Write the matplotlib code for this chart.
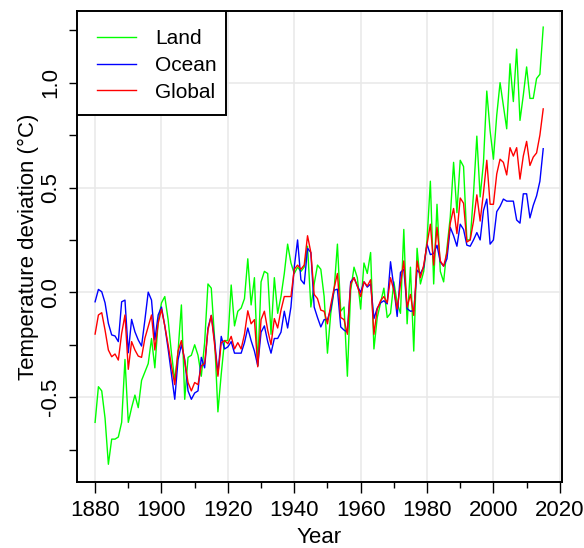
import numpy as np
import matplotlib
matplotlib.use("Agg")
import matplotlib.pyplot as plt
from matplotlib.patches import Rectangle
from matplotlib.ticker import MultipleLocator, FixedLocator, FixedFormatter

years = np.arange(1880, 2016)

land = [
    -0.62, -0.45, -0.47, -0.60, -0.82, -0.70, -0.70, -0.69, -0.62, -0.32,
    -0.62, -0.55, -0.49, -0.55, -0.42, -0.38, -0.34, -0.22, -0.36, -0.14,
    -0.05, -0.02, -0.13, -0.29, -0.42, -0.28, -0.06, -0.51, -0.31, -0.30,
    -0.25, -0.30, -0.40, -0.24, 0.04, 0.02, -0.22, -0.57, -0.39, -0.23,
    -0.23, 0.035, -0.16, -0.09, -0.075, -0.03, 0.16, -0.06, 0.07, -0.35,
    0.05, 0.10, 0.09, -0.20, 0.07, -0.10, -0.02, 0.09, 0.23, 0.14,
    0.09, 0.12, 0.10, 0.12, 0.22, -0.07, 0.04, 0.13, 0.11, -0.02,
    -0.29, -0.10, 0.01, 0.23, -0.09, -0.07, -0.40, 0.01, 0.12, 0.07,
    -0.08, 0.14, 0.09, 0.19, -0.27, -0.12, -0.05, 0.02, -0.12, -0.10,
    0.05, -0.05, -0.10, 0.30, -0.15, 0.12, -0.28, 0.21, 0.04, 0.10,
    0.25, 0.53, 0.04, 0.42, 0.10, 0.05, 0.21, 0.36, 0.62, 0.38,
    0.63, 0.60, 0.25, 0.25, 0.47, 0.745, 0.455, 0.62, 0.96, 0.77,
    0.635, 0.845, 1.00, 0.89, 0.78, 1.09, 0.91, 1.16, 0.82, 0.94,
    1.075, 0.925, 0.925, 1.02, 1.04, 1.265,
]

ocean = [
    -0.045, 0.014, 0.003, -0.05, -0.148, -0.203, -0.208, -0.235, -0.045, -0.037,
    -0.288, -0.129, -0.188, -0.227, -0.256, -0.132, 0.001, -0.037, -0.227, -0.108,
    -0.07, -0.16, -0.27, -0.39, -0.51, -0.32, -0.25, -0.32, -0.47, -0.51,
    -0.48, -0.47, -0.31, -0.36, -0.17, -0.11, -0.23, -0.39, -0.21, -0.27,
    -0.26, -0.235, -0.29, -0.29, -0.29, -0.24, -0.17, -0.23, -0.28, -0.35,
    -0.19, -0.16, -0.235, -0.29, -0.22, -0.22, -0.19, -0.09, -0.17, -0.07,
    0.12, 0.25, 0.06, 0.04, 0.21, 0.19, -0.07, -0.12, -0.165, -0.13,
    -0.13, -0.08, 0.01, 0.015, -0.165, -0.18, -0.19, 0.05, 0.07, 0.03,
    0.0, 0.05, 0.025, 0.04, -0.125, -0.075, -0.05, -0.04, -0.055, 0.146,
    0.025, -0.115, 0.095, 0.11, -0.078, -0.09, -0.088, 0.106, 0.09, 0.12,
    0.23, 0.18, 0.185, 0.225, 0.145, 0.125, 0.16, 0.31, 0.27, 0.22,
    0.325, 0.30, 0.225, 0.22, 0.25, 0.285, 0.25, 0.39, 0.445, 0.23,
    0.25, 0.385, 0.41, 0.445, 0.435, 0.435, 0.435, 0.345, 0.33, 0.47,
    0.47, 0.355, 0.415, 0.46, 0.53, 0.685,
]

glob = [
    -0.199, -0.108, -0.097, -0.18, -0.275, -0.307, -0.294, -0.323, -0.196, -0.108,
    -0.367, -0.235, -0.275, -0.304, -0.31, -0.219, -0.164, -0.108, -0.275, -0.148,
    -0.08, -0.16, -0.25, -0.35, -0.44, -0.28, -0.23, -0.33, -0.43, -0.47,
    -0.43, -0.44, -0.35, -0.34, -0.18, -0.11, -0.25, -0.40, -0.24, -0.23,
    -0.245, -0.21, -0.27, -0.24, -0.27, -0.20, -0.088, -0.15, -0.13, -0.355,
    -0.13, -0.09, -0.18, -0.25, -0.125, -0.17, -0.085, -0.02, -0.02, -0.02,
    0.11, 0.13, 0.11, 0.13, 0.27, 0.19, -0.01, -0.03, -0.085, -0.09,
    -0.15, -0.06, 0.02, 0.09, -0.12, -0.13, -0.20, 0.04, 0.07, 0.03,
    -0.02, 0.05, 0.03, 0.06, -0.20, -0.08, -0.04, -0.02, -0.05, 0.07,
    0.01, -0.08, 0.04, 0.15, -0.07, -0.01, -0.11, 0.15, 0.07, 0.13,
    0.23, 0.325, 0.13, 0.31, 0.15, 0.125, 0.19, 0.33, 0.40, 0.28,
    0.45, 0.425, 0.24, 0.25, 0.34, 0.465, 0.34, 0.475, 0.63, 0.42,
    0.42, 0.565, 0.635, 0.62, 0.56, 0.69, 0.65, 0.69, 0.54, 0.65,
    0.72, 0.605, 0.645, 0.665, 0.75, 0.875,
]

plt.rcParams['font.family'] = ['Liberation Sans', 'DejaVu Sans']
plt.rcParams['axes.unicode_minus'] = False

fig = plt.figure(figsize=(5.84, 5.48), dpi=100)
ax = fig.add_axes([0.131, 0.121, 0.831, 0.859])

ax.plot(years, land, color='#00ff00', linewidth=1.0, label='Land')
ax.plot(years, ocean, color='#0000ff', linewidth=1.0, label='Ocean')
ax.plot(years, glob, color='#ff0000', linewidth=1.0, label='Global')

ax.set_xlim(1874.4, 2020.6)
ax.set_ylim(-0.903, 1.342)

# grid only at the labelled positions
for gx in range(1880, 2021, 20):
    ax.axvline(gx, color='#e8e8e8', linewidth=1.1, zorder=0)
for gy in [-0.5, 0.0, 0.5, 1.0]:
    ax.axhline(gy, color='#e8e8e8', linewidth=1.1, zorder=0)

ax.xaxis.set_major_locator(MultipleLocator(20))
ax.xaxis.set_minor_locator(MultipleLocator(10))
ax.yaxis.set_major_locator(FixedLocator([-0.5, 0.0, 0.5, 1.0]))
ax.yaxis.set_major_formatter(FixedFormatter(['-0.5', '0.0', '0.5', '1.0']))
ax.yaxis.set_minor_locator(FixedLocator([-0.75, -0.25, 0.25, 0.75, 1.25]))

ax.tick_params(axis='x', which='major', direction='out', length=8, width=1.0,
               pad=5, labelsize=16)
ax.tick_params(axis='x', which='minor', direction='out', length=4.5, width=1.0)
ax.tick_params(axis='y', which='both', direction='out', length=6, width=1.0,
               pad=5, labelsize=16)
for lab in ax.get_yticklabels():
    lab.set_rotation(90)
    lab.set_va('center')

for sp in ax.spines.values():
    sp.set_linewidth(1.4)

ax.set_xlabel('Year', fontsize=16)
ax.set_ylabel('Temperature deviation (°C)', fontsize=16)
ax.xaxis.set_label_coords(0.5, -0.097)
ax.yaxis.set_label_coords(-0.078, 0.5)

# legend box drawn separately so its size is fixed
box = Rectangle((0, 1 - 0.2208), 0.309, 0.2208, transform=ax.transAxes,
                facecolor='white', edgecolor='black', linewidth=1.4, zorder=4)
ax.add_patch(box)
leg = ax.legend(loc='upper left', bbox_to_anchor=(0.0418, 0.961),
                borderaxespad=0, borderpad=0, fontsize=15, frameon=False,
                handlelength=1.9, handletextpad=0.9, labelspacing=0.37)
leg.set_zorder(5)

fig.savefig('out.png', dpi=100)
